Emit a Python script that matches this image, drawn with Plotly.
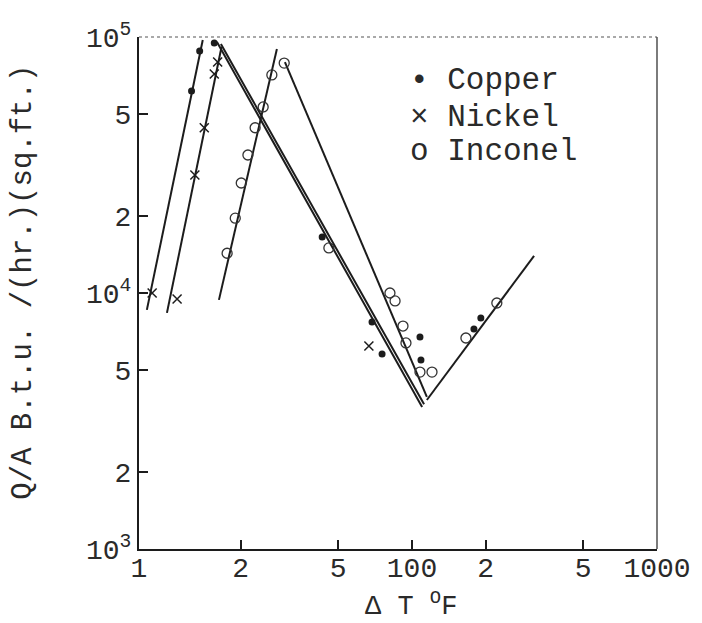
import plotly.graph_objects as go
import math

# ---------------- data ----------------
series_names = ["Copper", "Nickel", "Inconel"]
series_glyphs = ["\u2022", "\u00d7", "o"]

copper_dT = [15.6, 13.6, 12.6, 43.0, 68.7, 75.5, 107.8, 108.8, 179, 191]
copper_q = [94800, 88200, 61500, 16550, 7710, 5780, 6730, 5470, 7230, 7980]

nickel_dT = [8.7, 11.0, 13.0, 14.2, 15.6, 16.1, 66.7]
nickel_q = [10000, 9480, 28900, 44200, 71700, 79800, 6210]

inconel_dT = [17.6, 19.0, 20.1, 21.4, 22.9, 24.7, 26.8, 30.1, 45.8,
              81.3, 85.3, 91.9, 94.5, 107.8, 120.7, 166, 222]
inconel_q = [14300, 19600, 26900, 34600, 44200, 53300, 71100, 79100, 15000,
             10000, 9310, 7430, 6380, 4910, 4910, 6670, 9140]

# fitted straight lines (start, end)
line_dT = [[8.28, 14.0], [10.0, 16.7], [16.3, 28.1],
           [16.0, 110], [16.6, 112], [30.3, 115], [115, 315]]
line_q = [[8590, 97300], [8360, 91400], [9400, 89800],
          [95600, 3590], [93900, 3680], [79800, 3930], [3820, 13960]]

x_tickvals = [7.69, 20, 50, 100, 200, 500, 1000]
x_ticktext = ["1", "2", "5", "100", "2", "5", "1000"]
y_tickvals = [1000, 2000, 5000, 10000, 20000, 50000, 100000]
y_ticktext = ["10<sup>3</sup>", "2", "5", "10<sup>4</sup>", "2", "5", "10<sup>5</sup>"]

# ---------------- figure ----------------
INK = "#1c1c1c"
TXT = "#2a2a2a"
FONT = "Liberation Mono"

fig = go.Figure()

for xs, ys in zip(line_dT, line_q):
    fig.add_trace(go.Scatter(x=xs, y=ys, mode="lines",
                             line=dict(color=INK, width=2),
                             showlegend=False, hoverinfo="skip"))

fig.add_trace(go.Scatter(x=copper_dT, y=copper_q, mode="markers", name=series_names[0],
                         marker=dict(symbol="circle", size=7, color=INK)))
fig.add_trace(go.Scatter(x=nickel_dT, y=nickel_q, mode="markers", name=series_names[1],
                         marker=dict(symbol="x-thin", size=9, color=INK,
                                     line=dict(color=INK, width=1.5))))
fig.add_trace(go.Scatter(x=inconel_dT, y=inconel_q, mode="markers", name=series_names[2],
                         marker=dict(symbol="circle-open", size=10, color="#333333",
                                     line=dict(color="#333333", width=1.3))))

axis_common = dict(showgrid=False, zeroline=False, ticks="inside", ticklen=9,
                   tickwidth=1.5, tickcolor=INK, linecolor=INK, linewidth=2.2,
                   mirror=False, showline=True, automargin=False,
                   tickfont=dict(family=FONT, size=28, color=TXT))

fig.update_xaxes(type="log", range=[math.log10(7.69), 3],
                 tickmode="array", tickvals=x_tickvals, ticktext=x_ticktext,
                 ticklabelstandoff=-8, **axis_common)
fig.update_yaxes(type="log", range=[3, 5],
                 tickmode="array", tickvals=y_tickvals, ticktext=y_ticktext,
                 **axis_common)

# thin top and right frame
fig.add_shape(type="line", xref="paper", yref="paper", x0=0, x1=1, y0=1, y1=1,
              line=dict(color="#555555", width=1.2, dash="dot"))
fig.add_shape(type="line", xref="paper", yref="paper", x0=1, x1=1, y0=0, y1=1,
              line=dict(color="#444444", width=1.4))

# axis titles
fig.add_annotation(text="Q/A B.t.u. /(hr.)(sq.ft.)", xref="paper", yref="paper",
                   x=-0.222, y=0.52, textangle=-90, showarrow=False,
                   xanchor="center", yanchor="middle",
                   font=dict(family=FONT, size=29, color=TXT))
fig.add_annotation(text="\u0394 T <sup>O</sup>F", xref="paper", yref="paper",
                   x=0.525, y=-0.109, showarrow=False, yanchor="middle",
                   font=dict(family=FONT, size=27, color=TXT))

# key (typed, as in the original)
key_y = [0.916, 0.842, 0.777]
for glyph, name, ky in zip(series_glyphs, series_names, key_y):
    fig.add_annotation(text=glyph + " " + name, xref="paper", yref="paper",
                       x=0.52, y=ky, xanchor="left", yanchor="middle",
                       showarrow=False,
                       font=dict(family=FONT, size=31, color=TXT))

fig.update_layout(
    width=694, height=615,
    margin=dict(l=131, r=45, t=29, b=74),
    paper_bgcolor="white", plot_bgcolor="white",
    showlegend=False,
)

fig.write_html("out.html")
